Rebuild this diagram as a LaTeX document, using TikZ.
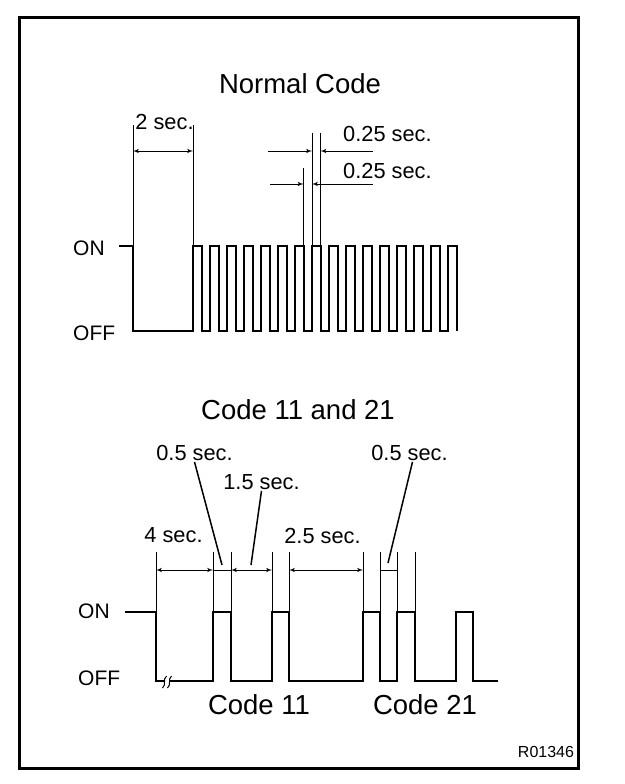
\documentclass[tikz,border=0pt]{standalone}
\usepackage{fontspec}
\setmainfont{Liberation Sans}
\usepackage{tikz}
\usetikzlibrary{arrows}
\tikzstyle{signal} = [draw, line width=2pt]
\tikzstyle{extension} = [draw, line width=0.7pt]
\tikzstyle{dimension} = [draw, line width=1pt, latex'-latex']
\tikzstyle{pointer} = [draw, line width=1pt, -latex']
\tikzstyle{leader} = [draw, line width=1.5pt]
\tikzstyle{caption} = [text centered, inner sep=1pt, font=\fontsize{27.5}{32}\selectfont]
\tikzstyle{timing} = [text centered, inner sep=1pt, font=\fontsize{21.8}{25}\selectfont]
\tikzstyle{level} = [anchor=west, inner sep=1pt, font=\fontsize{21}{25}\selectfont]
\tikzstyle{figno} = [inner sep=1pt, font=\fontsize{16}{19}\selectfont]

\begin{document}
\begin{tikzpicture}[x=1pt, y=-1pt]

\useasboundingbox (0,0) rectangle (624,784);
\draw[line width=3pt] (19.5,17.5) rectangle (578.5,768.5);

\node[caption] at (300,84) (normalTitle) {Normal Code};
\node[level] at (72,248) (normalOn) {ON};
\node[level] at (72,333) (normalOff) {OFF};

\path[signal] (119,246) -- (133,246) -- (133,331)
  \foreach \k in {0,...,15} { -- ({193+17*\k},331) -- ({193+17*\k},246) -- ({201.5+17*\k},246) -- ({201.5+17*\k},331) };

\foreach \x/\h in {133/125, 193/125, 303.5/168, 312/133, 320.5/133}
  \path[extension] (\x,\h) -- (\x,246);

\coordinate (twoSecL) at (133,151);
\coordinate (twoSecR) at (193,151);
\coordinate (highFrom) at (268,151);
\coordinate (highL) at (312,151);
\coordinate (highR) at (320.5,151);
\coordinate (highTo) at (373,151);
\coordinate (lowFrom) at (270,184);
\coordinate (lowL) at (303.5,184);
\coordinate (lowR) at (312,184);
\coordinate (lowTo) at (373,184);

\node[timing] at (164.5,122) (twoSec) {2 sec.};
\node[timing, anchor=west] at (342,134) (highSec) {0.25 sec.};
\node[timing, anchor=west] at (342,171) (lowSec) {0.25 sec.};

\path [dimension] (twoSecL) -- (twoSecR);
\path [pointer] (highFrom) -- (highL);
\path [pointer] (highTo) -- (highR);
\path [pointer] (lowFrom) -- (lowL);
\path [pointer] (lowTo) -- (lowR);


\node[caption] at (298,410) (codeTitle) {Code 11 and 21};
\node[level] at (77,611.5) (codeOn) {ON};
\node[level] at (77,678) (codeOff) {OFF};

\path[signal] (125,612) -- (156,612) -- (156,681) -- (165,681);
\path[signal] (170,681)
  \foreach \r/\f in {213/231, 272/289, 363/380, 397/415, 456/473} { -- (\r,681) -- (\r,612) -- (\f,612) -- (\f,681) }
  -- (498,681);
\draw[line width=1pt] (162.5,688) .. controls (167,684) and (162,680) .. (166.5,676);
\draw[line width=1pt] (167.5,688) .. controls (172,684) and (167,680) .. (171.5,676);

\foreach \x in {156,213,231,272,289,363,380,397,415}
  \path[extension] (\x,552) -- (\x,612);

\coordinate (fourL) at (156,570);
\coordinate (fourR) at (213,570);
\coordinate (halfAR) at (231,570);
\coordinate (oneHalfR) at (272,570);
\coordinate (twoHalfL) at (289,570);
\coordinate (twoHalfR) at (363,570);
\coordinate (halfBL) at (380,570);
\coordinate (halfBR) at (397,570);
\coordinate (halfATip) at (222,565);
\coordinate (oneHalfTip) at (251,565);
\coordinate (halfBTip) at (388,563);

\node[timing] at (194.5,453) (halfSecA) {0.5 sec.};
\node[timing] at (261.5,482) (oneHalfSec) {1.5 sec.};
\node[timing] at (173.5,535) (fourSec) {4 sec.};
\node[timing] at (322.5,536) (twoHalfSec) {2.5 sec.};
\node[timing] at (409.5,453) (halfSecB) {0.5 sec.};

\path [dimension] (fourL) -- (fourR);
\path [extension] (fourR) -- (halfAR);
\path [dimension] (halfAR) -- (oneHalfR);
\path [dimension] (twoHalfL) -- (twoHalfR);
\path [extension] (halfBL) -- (halfBR);

\path [leader] (halfSecA.south) -- (halfATip);
\path [leader] (oneHalfSec.south) -- (oneHalfTip);
\path [leader] ([xshift=3pt]halfSecB.south) -- (halfBTip);

\node[caption] at (259,705) (codeEleven) {Code 11};
\node[caption] at (425,705) (codeTwentyOne) {Code 21};
\node[figno] at (546,752) (figNo) {R01346};

\end{tikzpicture}
\end{document}
